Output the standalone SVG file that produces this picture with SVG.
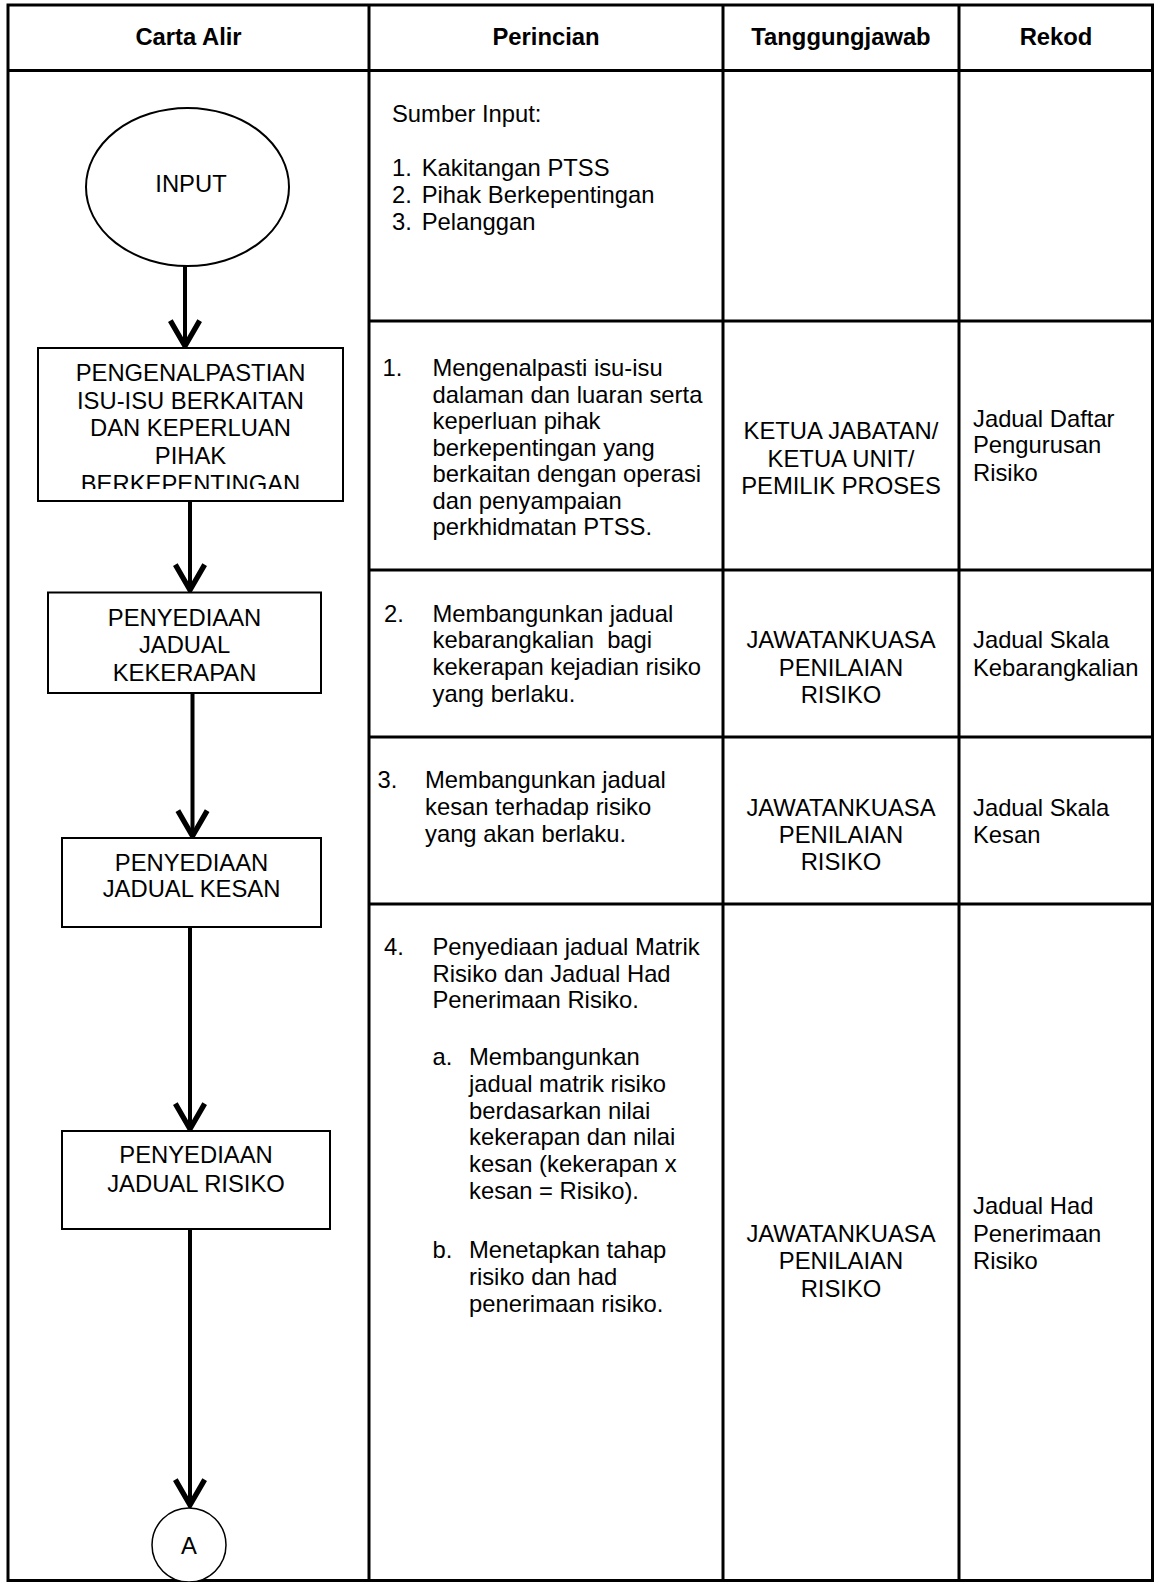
<svg xmlns="http://www.w3.org/2000/svg" width="1154" height="1582" viewBox="0 0 1154 1582">
<style>
  text { font-family: "Liberation Sans", Arial, sans-serif; font-size: 23.8px; fill: #000; white-space: pre; }
  .hdr { font-weight: bold; text-anchor: middle; }
  .mid { text-anchor: middle; }
  .grid { stroke: #000; stroke-width: 3; fill: none; }
  .shape { stroke: #000; stroke-width: 2; fill: #fff; }
  .conn { stroke: #000; stroke-width: 4; fill: none; marker-end: url(#arr); }
</style>
<defs>
  <marker id="arr" markerUnits="userSpaceOnUse" markerWidth="40" markerHeight="40" refX="0" refY="0" viewBox="-25 -15 30 30" orient="auto" overflow="visible">
    <path d="M -19 -11 L 0 0 L -19 11" fill="none" stroke="#000" stroke-width="4" stroke-linejoin="miter"/>
  </marker>
  <clipPath id="clip1"><rect x="38" y="348" width="305" height="141"/></clipPath>
</defs>
<rect x="0" y="0" width="1154" height="1582" fill="#fff"/>

<g id="table">
  <rect class="grid" x="8" y="5" width="1144.5" height="1575.5"/>
  <line class="grid" x1="8" y1="70.5" x2="1152.5" y2="70.5"/>
  <line class="grid" x1="369" y1="5" x2="369" y2="1580.5"/>
  <line class="grid" x1="723" y1="5" x2="723" y2="1580.5"/>
  <line class="grid" x1="959" y1="5" x2="959" y2="1580.5"/>
  <line class="grid" x1="369" y1="321" x2="1152.5" y2="321"/>
  <line class="grid" x1="369" y1="570" x2="1152.5" y2="570"/>
  <line class="grid" x1="369" y1="737" x2="1152.5" y2="737"/>
  <line class="grid" x1="369" y1="904" x2="1152.5" y2="904"/>
  <text class="hdr" x="188.5" y="45">Carta Alir</text>
  <text class="hdr" x="546" y="45">Perincian</text>
  <text class="hdr" x="841" y="45">Tanggungjawab</text>
  <text class="hdr" x="1056" y="45">Rekod</text>
</g>

<g id="connectors">
  <line class="conn" x1="185" y1="266" x2="185" y2="346"/>
  <line class="conn" x1="190" y1="501" x2="190" y2="590"/>
  <line class="conn" x1="192.5" y1="693" x2="192.5" y2="836"/>
  <line class="conn" x1="190" y1="927" x2="190" y2="1129"/>
  <line class="conn" x1="190" y1="1229" x2="190" y2="1505"/>
</g>

<g id="node-input">
  <ellipse class="shape" cx="187.5" cy="187" rx="101.5" ry="79"/>
  <text class="mid" x="191" y="191.5">INPUT</text>
</g>

<g id="node-pengenalpastian">
  <rect class="shape" x="38" y="348" width="305" height="153"/>
  <g clip-path="url(#clip1)">
    <text class="mid" x="190.5" y="381">PENGENALPASTIAN</text>
    <text class="mid" x="190.5" y="409">ISU-ISU BERKAITAN</text>
    <text class="mid" x="190.5" y="436">DAN KEPERLUAN</text>
    <text class="mid" x="190.5" y="463.5">PIHAK</text>
    <text class="mid" x="190.5" y="492">BERKEPENTINGAN</text>
  </g>
</g>

<g id="node-kekerapan">
  <rect class="shape" x="48" y="592.5" width="273" height="100.5"/>
  <text class="mid" x="184.5" y="625.7">PENYEDIAAN</text>
  <text class="mid" x="184.5" y="653.3">JADUAL</text>
  <text class="mid" x="184.5" y="680.7">KEKERAPAN</text>
</g>

<g id="node-kesan">
  <rect class="shape" x="62" y="838" width="259" height="89"/>
  <text class="mid" x="191.5" y="870.7">PENYEDIAAN</text>
  <text class="mid" x="191.5" y="897.3">JADUAL KESAN</text>
</g>

<g id="node-risiko">
  <rect class="shape" x="62" y="1131" width="268" height="98"/>
  <text class="mid" x="196" y="1163.3">PENYEDIAAN</text>
  <text class="mid" x="196" y="1191.7">JADUAL RISIKO</text>
</g>

<g id="node-a">
  <circle cx="189" cy="1545" r="37" fill="#fff" stroke="#000" stroke-width="1.5"/>
  <text class="mid" x="189" y="1554">A</text>
</g>

<g id="perincian">
  <text x="392" y="121.7">Sumber Input:</text>
  <text x="392" y="176">1.</text><text x="421.7" y="176">Kakitangan PTSS</text>
  <text x="392" y="203.3">2.</text><text x="421.7" y="203.3">Pihak Berkepentingan</text>
  <text x="392" y="230">3.</text><text x="421.7" y="230">Pelanggan</text>

  <text x="382.5" y="376">1.</text>
  <text x="432.5" y="376">Mengenalpasti isu-isu</text>
  <text x="432.5" y="402.5">dalaman dan luaran serta</text>
  <text x="432.5" y="429">keperluan pihak</text>
  <text x="432.5" y="455.5">berkepentingan yang</text>
  <text x="432.5" y="482">berkaitan dengan operasi</text>
  <text x="432.5" y="508.5">dan penyampaian</text>
  <text x="432.5" y="535">perkhidmatan PTSS.</text>

  <text x="384" y="621.7">2.</text>
  <text x="432.5" y="621.7">Membangunkan jadual</text>
  <text x="432.5" y="648.3">kebarangkalian  bagi</text>
  <text x="432.5" y="675">kekerapan kejadian risiko</text>
  <text x="432.5" y="701.7">yang berlaku.</text>

  <text x="377.5" y="788.3">3.</text>
  <text x="425" y="788.3">Membangunkan jadual</text>
  <text x="425" y="815">kesan terhadap risiko</text>
  <text x="425" y="841.7">yang akan berlaku.</text>

  <text x="384" y="955">4.</text>
  <text x="432.5" y="955">Penyediaan jadual Matrik</text>
  <text x="432.5" y="981.7">Risiko dan Jadual Had</text>
  <text x="432.5" y="1008.3">Penerimaan Risiko.</text>

  <text x="432.5" y="1065">a.</text>
  <text x="469" y="1065">Membangunkan</text>
  <text x="469" y="1091.8">jadual matrik risiko</text>
  <text x="469" y="1118.6">berdasarkan nilai</text>
  <text x="469" y="1145.4">kekerapan dan nilai</text>
  <text x="469" y="1172.2">kesan (kekerapan x</text>
  <text x="469" y="1199">kesan = Risiko).</text>

  <text x="432.5" y="1258.3">b.</text>
  <text x="469" y="1258.3">Menetapkan tahap</text>
  <text x="469" y="1285">risiko dan had</text>
  <text x="469" y="1312">penerimaan risiko.</text>
</g>

<g id="tanggungjawab">
  <text class="mid" x="841" y="439.3">KETUA JABATAN/</text>
  <text class="mid" x="841" y="466.7">KETUA UNIT/</text>
  <text class="mid" x="841" y="494">PEMILIK PROSES</text>

  <text class="mid" x="841" y="648.3">JAWATANKUASA</text>
  <text class="mid" x="841" y="675.7">PENILAIAN</text>
  <text class="mid" x="841" y="702.7">RISIKO</text>

  <text class="mid" x="841" y="815.7">JAWATANKUASA</text>
  <text class="mid" x="841" y="842.7">PENILAIAN</text>
  <text class="mid" x="841" y="870">RISIKO</text>

  <text class="mid" x="841" y="1241.7">JAWATANKUASA</text>
  <text class="mid" x="841" y="1269.3">PENILAIAN</text>
  <text class="mid" x="841" y="1297">RISIKO</text>
</g>

<g id="rekod">
  <text x="973" y="426.7">Jadual Daftar</text>
  <text x="973" y="453.3">Pengurusan</text>
  <text x="973" y="480.7">Risiko</text>

  <text x="973" y="648.3">Jadual Skala</text>
  <text x="973" y="675.7">Kebarangkalian</text>

  <text x="973" y="815.7">Jadual Skala</text>
  <text x="973" y="842.7">Kesan</text>

  <text x="973" y="1214.3">Jadual Had</text>
  <text x="973" y="1241.7">Penerimaan</text>
  <text x="973" y="1269.3">Risiko</text>
</g>
</svg>
